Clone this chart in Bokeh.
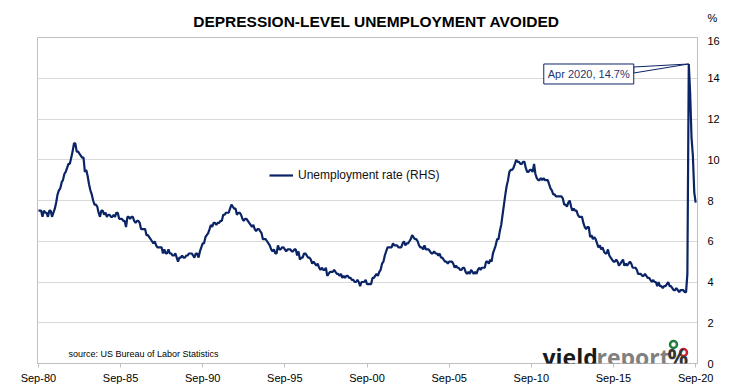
import pandas as pd
from bokeh.plotting import figure
from bokeh.layouts import column
from bokeh.models import (Label, FixedTicker, DatetimeTickFormatter, Legend, LegendItem, Range1d)
from bokeh.embed import file_html
from bokeh.resources import INLINE

# ---------------- data ----------------
title_text = "DEPRESSION-LEVEL UNEMPLOYMENT AVOIDED"
series_name = "Unemployment rate (RHS)"
source_text = "source: US Bureau of Labor Statistics"
unit_text = "%"
first_month = "1980-09-01"

rate_1980s = [
    7.5, 7.5, 7.5, 7.2,
    7.5, 7.4, 7.4, 7.2, 7.5, 7.5, 7.2, 7.4, 7.6, 7.9, 8.3, 8.5,
    8.6, 8.9, 9.0, 9.3, 9.4, 9.6, 9.8, 9.8, 10.1, 10.4, 10.8, 10.8,
    10.4, 10.4, 10.3, 10.2, 10.1, 10.1, 9.4, 9.5, 9.2, 8.8, 8.5, 8.3,
    8.0, 7.8, 7.8, 7.7, 7.4, 7.2, 7.5, 7.5, 7.3, 7.4, 7.2, 7.3,
    7.3, 7.2, 7.2, 7.3, 7.2, 7.4, 7.4, 7.1, 7.1, 7.1, 7.0, 7.0,
    6.7, 7.2, 7.2, 7.1, 7.2, 7.2, 7.0, 6.9, 7.0, 7.0, 6.9, 6.6,
    6.6, 6.6, 6.6, 6.3, 6.3, 6.2, 6.1, 6.0, 5.9, 6.0, 5.8, 5.7,
    5.7, 5.7, 5.7, 5.4, 5.6, 5.4, 5.4, 5.6, 5.4, 5.4, 5.3, 5.3,
    5.4, 5.2, 5.0, 5.2, 5.2, 5.3, 5.2, 5.2, 5.3, 5.3, 5.4, 5.4,
]
rate_1990s = [
    5.4, 5.3, 5.2, 5.4, 5.4, 5.2, 5.5, 5.7, 5.9, 5.9, 6.2, 6.3,
    6.4, 6.6, 6.8, 6.7, 6.9, 6.9, 6.8, 6.9, 6.9, 7.0, 7.0, 7.3,
    7.3, 7.4, 7.4, 7.4, 7.6, 7.8, 7.7, 7.6, 7.6, 7.3, 7.4, 7.4,
    7.3, 7.1, 7.0, 7.1, 7.1, 7.0, 6.9, 6.8, 6.7, 6.8, 6.6, 6.5,
    6.6, 6.6, 6.5, 6.4, 6.1, 6.1, 6.1, 6.0, 5.9, 5.8, 5.6, 5.5,
    5.6, 5.4, 5.4, 5.8, 5.6, 5.6, 5.7, 5.7, 5.6, 5.5, 5.6, 5.6,
    5.6, 5.5, 5.5, 5.6, 5.6, 5.3, 5.5, 5.1, 5.2, 5.2, 5.4, 5.4,
    5.3, 5.2, 5.2, 5.1, 4.9, 5.0, 4.9, 4.8, 4.9, 4.7, 4.6, 4.7,
    4.6, 4.6, 4.7, 4.3, 4.4, 4.5, 4.5, 4.5, 4.6, 4.5, 4.4, 4.4,
    4.3, 4.4, 4.2, 4.3, 4.2, 4.3, 4.3, 4.2, 4.2, 4.1, 4.1, 4.0,
]
rate_2000s = [
    4.0, 4.1, 4.0, 3.8, 4.0, 4.0, 4.0, 4.1, 3.9, 3.9, 3.9, 3.9,
    4.2, 4.2, 4.3, 4.4, 4.3, 4.5, 4.6, 4.9, 5.0, 5.3, 5.5, 5.7,
    5.7, 5.7, 5.7, 5.9, 5.8, 5.8, 5.8, 5.7, 5.7, 5.7, 5.9, 6.0,
    5.8, 5.9, 5.9, 6.0, 6.1, 6.3, 6.2, 6.1, 6.1, 6.0, 5.8, 5.7,
    5.7, 5.6, 5.8, 5.6, 5.6, 5.6, 5.5, 5.4, 5.4, 5.5, 5.4, 5.4,
    5.3, 5.4, 5.2, 5.2, 5.1, 5.0, 5.0, 4.9, 5.0, 5.0, 5.0, 4.9,
    4.7, 4.8, 4.7, 4.7, 4.6, 4.6, 4.7, 4.7, 4.5, 4.4, 4.5, 4.4,
    4.6, 4.5, 4.4, 4.5, 4.4, 4.6, 4.7, 4.6, 4.7, 4.7, 4.7, 5.0,
    5.0, 4.9, 5.1, 5.0, 5.4, 5.6, 5.8, 6.1, 6.1, 6.5, 6.8, 7.3,
    7.8, 8.3, 8.7, 9.0, 9.4, 9.5, 9.5, 9.6, 9.8, 10.0, 9.9, 9.9,
]
rate_2010s = [
    9.8, 9.8, 9.9, 9.9, 9.6, 9.4, 9.4, 9.5, 9.5, 9.4, 9.8, 9.3,
    9.1, 9.0, 9.0, 9.1, 9.0, 9.1, 9.0, 9.0, 9.0, 8.8, 8.6, 8.5,
    8.3, 8.3, 8.2, 8.2, 8.2, 8.2, 8.2, 8.1, 7.8, 7.8, 7.7, 7.9,
    8.0, 7.7, 7.5, 7.6, 7.5, 7.5, 7.3, 7.2, 7.2, 7.2, 6.9, 6.7,
    6.6, 6.7, 6.7, 6.2, 6.3, 6.1, 6.2, 6.1, 5.9, 5.7, 5.8, 5.6,
    5.7, 5.5, 5.4, 5.4, 5.6, 5.3, 5.2, 5.1, 5.0, 5.0, 5.1, 5.0,
    4.8, 4.9, 5.0, 5.1, 4.8, 4.9, 4.8, 4.9, 5.0, 4.9, 4.7, 4.7,
    4.7, 4.6, 4.4, 4.4, 4.4, 4.3, 4.3, 4.4, 4.3, 4.2, 4.2, 4.1,
    4.0, 4.1, 4.0, 4.0, 3.8, 4.0, 3.8, 3.8, 3.7, 3.8, 3.8, 3.9,
    4.0, 3.8, 3.8, 3.7, 3.6, 3.6, 3.7, 3.6, 3.5, 3.6, 3.6, 3.6,
]
rate_2020 = [3.5, 3.5, 4.4, 14.7, 13.3, 11.1, 10.2, 8.4, 7.9]

x_tick_dates = ["1980-09-01", "1985-09-01", "1990-09-01", "1995-09-01", "2000-09-01",
                "2005-09-01", "2010-09-01", "2015-09-01", "2020-09-01"]
x_tick_labels = ["Sep-80", "Sep-85", "Sep-90", "Sep-95", "Sep-00",
                 "Sep-05", "Sep-10", "Sep-15", "Sep-20"]
y_ticks = [0, 2, 4, 6, 8, 10, 12, 14, 16]

rate = rate_1980s + rate_1990s + rate_2000s + rate_2010s + rate_2020
months = pd.date_range(first_month, periods=len(rate), freq="MS")

# ---------------- layout ----------------
W = 730
HEAD_H = 36
H = 389 - HEAD_H
ML, MR, MT, MB = 37, 33, 1, 26
FW, FH = W - ML - MR, H - MT - MB
PAGE_FL, PAGE_FT = ML, HEAD_H + MT  # frame left/top on the page

def ms(d):
    return pd.Timestamp(d).value / 1e6

x0 = ms("1980-08-12")
x1 = ms("2020-10-12")
y0, y1 = 0, 16

def fx(px):  # page x -> data x
    return x0 + (px - PAGE_FL) / FW * (x1 - x0)

def fy(py):  # page y -> data y
    return y1 - (py - PAGE_FT) / FH * (y1 - y0)

NAVY = "#0a2466"
GRID = "#d9d9d9"
AX = "#bfbfbf"
FONT = "Liberation Sans"

# ---------- header (title + unit) ----------
head = figure(width=W, height=HEAD_H, x_range=Range1d(0, W), y_range=Range1d(0, HEAD_H),
              x_axis_location=None, y_axis_location=None,
              output_backend="svg", toolbar_location=None,
              min_border_left=0, min_border_right=0, min_border_top=0, min_border_bottom=0)
try:
    head.frame_align = False
except AttributeError:
    pass
head.outline_line_color = None
head.grid.grid_line_color = None
head.background_fill_color = "white"
head.border_fill_color = "white"
head.add_layout(Label(x=376, y=HEAD_H - 21, text=title_text, text_align="center",
                      text_baseline="middle", text_font=FONT, text_font_style="bold",
                      text_font_size="15.5px", text_color="#000000"))
head.add_layout(Label(x=712, y=HEAD_H - 17, text=unit_text, text_align="center",
                      text_baseline="middle", text_font=FONT, text_font_size="11px",
                      text_color="#000000"))

# ---------- main chart ----------
p = figure(width=W, height=H, x_axis_type="datetime", y_axis_location="right",
           x_range=Range1d(x0, x1), y_range=Range1d(y0, y1),
           output_backend="svg", toolbar_location=None,
           min_border_left=ML, min_border_right=MR, min_border_top=MT, min_border_bottom=MB)
try:
    p.frame_align = False
except AttributeError:
    pass
p.background_fill_color = "white"
p.border_fill_color = "white"
p.outline_line_color = AX

xa = p.xaxis[0]
tick_ms = [ms(d) for d in x_tick_dates]
xa.ticker = FixedTicker(ticks=tick_ms)
xa.formatter = DatetimeTickFormatter(years="%b-%y", months="%b-%y", days="%b-%y")
xa.major_label_overrides = {t: lab for t, lab in zip(tick_ms, x_tick_labels)}
xa.axis_line_color = AX
xa.major_tick_line_color = AX
xa.major_tick_out = 4
xa.major_tick_in = 0
xa.minor_tick_line_color = None
xa.major_label_standoff = 4
xa.major_label_text_font = FONT
xa.major_label_text_font_size = "11px"
xa.major_label_text_color = "#000000"

ya = p.yaxis[0]
ya.ticker = FixedTicker(ticks=y_ticks)
ya.axis_line_color = AX
ya.major_tick_out = 0
ya.major_tick_in = 0
ya.minor_tick_line_color = None
ya.major_label_standoff = 10
ya.major_label_text_font = FONT
ya.major_label_text_font_size = "11px"
ya.major_label_text_color = "#000000"

p.xgrid.grid_line_color = None
p.ygrid.grid_line_color = GRID
p.ygrid.grid_line_width = 1

line = p.line(months, rate, line_color=NAVY, line_width=2.2)

legend = Legend(items=[LegendItem(label=series_name, renderers=[line])],
                location=(232, 178), orientation="vertical")
legend.border_line_color = None
legend.background_fill_alpha = 0
legend.padding = 0
legend.margin = 0
legend.glyph_width = 24
legend.label_standoff = 5
legend.label_text_font = FONT
legend.label_text_font_size = "12px"
legend.label_text_color = "#111111"
p.add_layout(legend, "center")

# peak annotation
i_peak = max(range(len(rate)), key=lambda i: rate[i])
px_peak = ms(months[i_peak])
py_peak = rate[i_peak]
xpx = (x1 - x0) / FW   # ms per pixel
ypx = (y1 - y0) / FH   # units per pixel
wedge_x = [px_peak, px_peak - 55 * xpx, px_peak - 55 * xpx]
wedge_y = [py_peak, py_peak - 3 * ypx, py_peak - 9 * ypx]
p.patch(wedge_x, wedge_y, fill_color="white", line_color=NAVY, line_width=1)

peak_text = f"{months[i_peak].strftime('%b %Y')}, {py_peak}%"
p.add_layout(Label(x=px_peak, y=py_peak, x_offset=-145, y_offset=-10,
                   text=peak_text, text_align="left", text_baseline="middle",
                   text_font=FONT, text_font_size="11px", text_color="#1f3870",
                   border_line_color=NAVY, border_line_width=1,
                   background_fill_color="white", padding=4))

p.add_layout(Label(x=fx(68), y=fy(353), text=source_text, text_align="left",
                   text_baseline="middle", text_font=FONT, text_font_size="9px",
                   text_color="#000000"))

# logo
LOGO_FONT = "Open Sans"
p.add_layout(Label(x=fx(542), y=fy(356), text="yield", text_align="left",
                   text_baseline="alphabetic", text_font=LOGO_FONT, text_font_style="bold",
                   text_font_size="23px", text_color="#1a1a1a"))
p.add_layout(Label(x=fx(596), y=fy(356), text="report", text_align="left",
                   text_baseline="alphabetic", text_font=LOGO_FONT, text_font_style="bold",
                   text_font_size="23px", text_color="#808080"))
p.add_layout(Label(x=fx(667), y=fy(356), text="%", text_align="left",
                   text_baseline="alphabetic", text_font=LOGO_FONT, text_font_style="bold",
                   text_font_size="23px", text_color="#333333"))
p.scatter([fx(673)], [fy(344)], size=7, fill_color="white", line_color="#1e7b3c", line_width=2.5)
p.scatter([fx(683)], [fy(352)], size=7, fill_color="white", line_color="#c8202e", line_width=2.5)

layout = column(head, p, spacing=0)
open("out.html", "w").write(file_html(layout, INLINE))
